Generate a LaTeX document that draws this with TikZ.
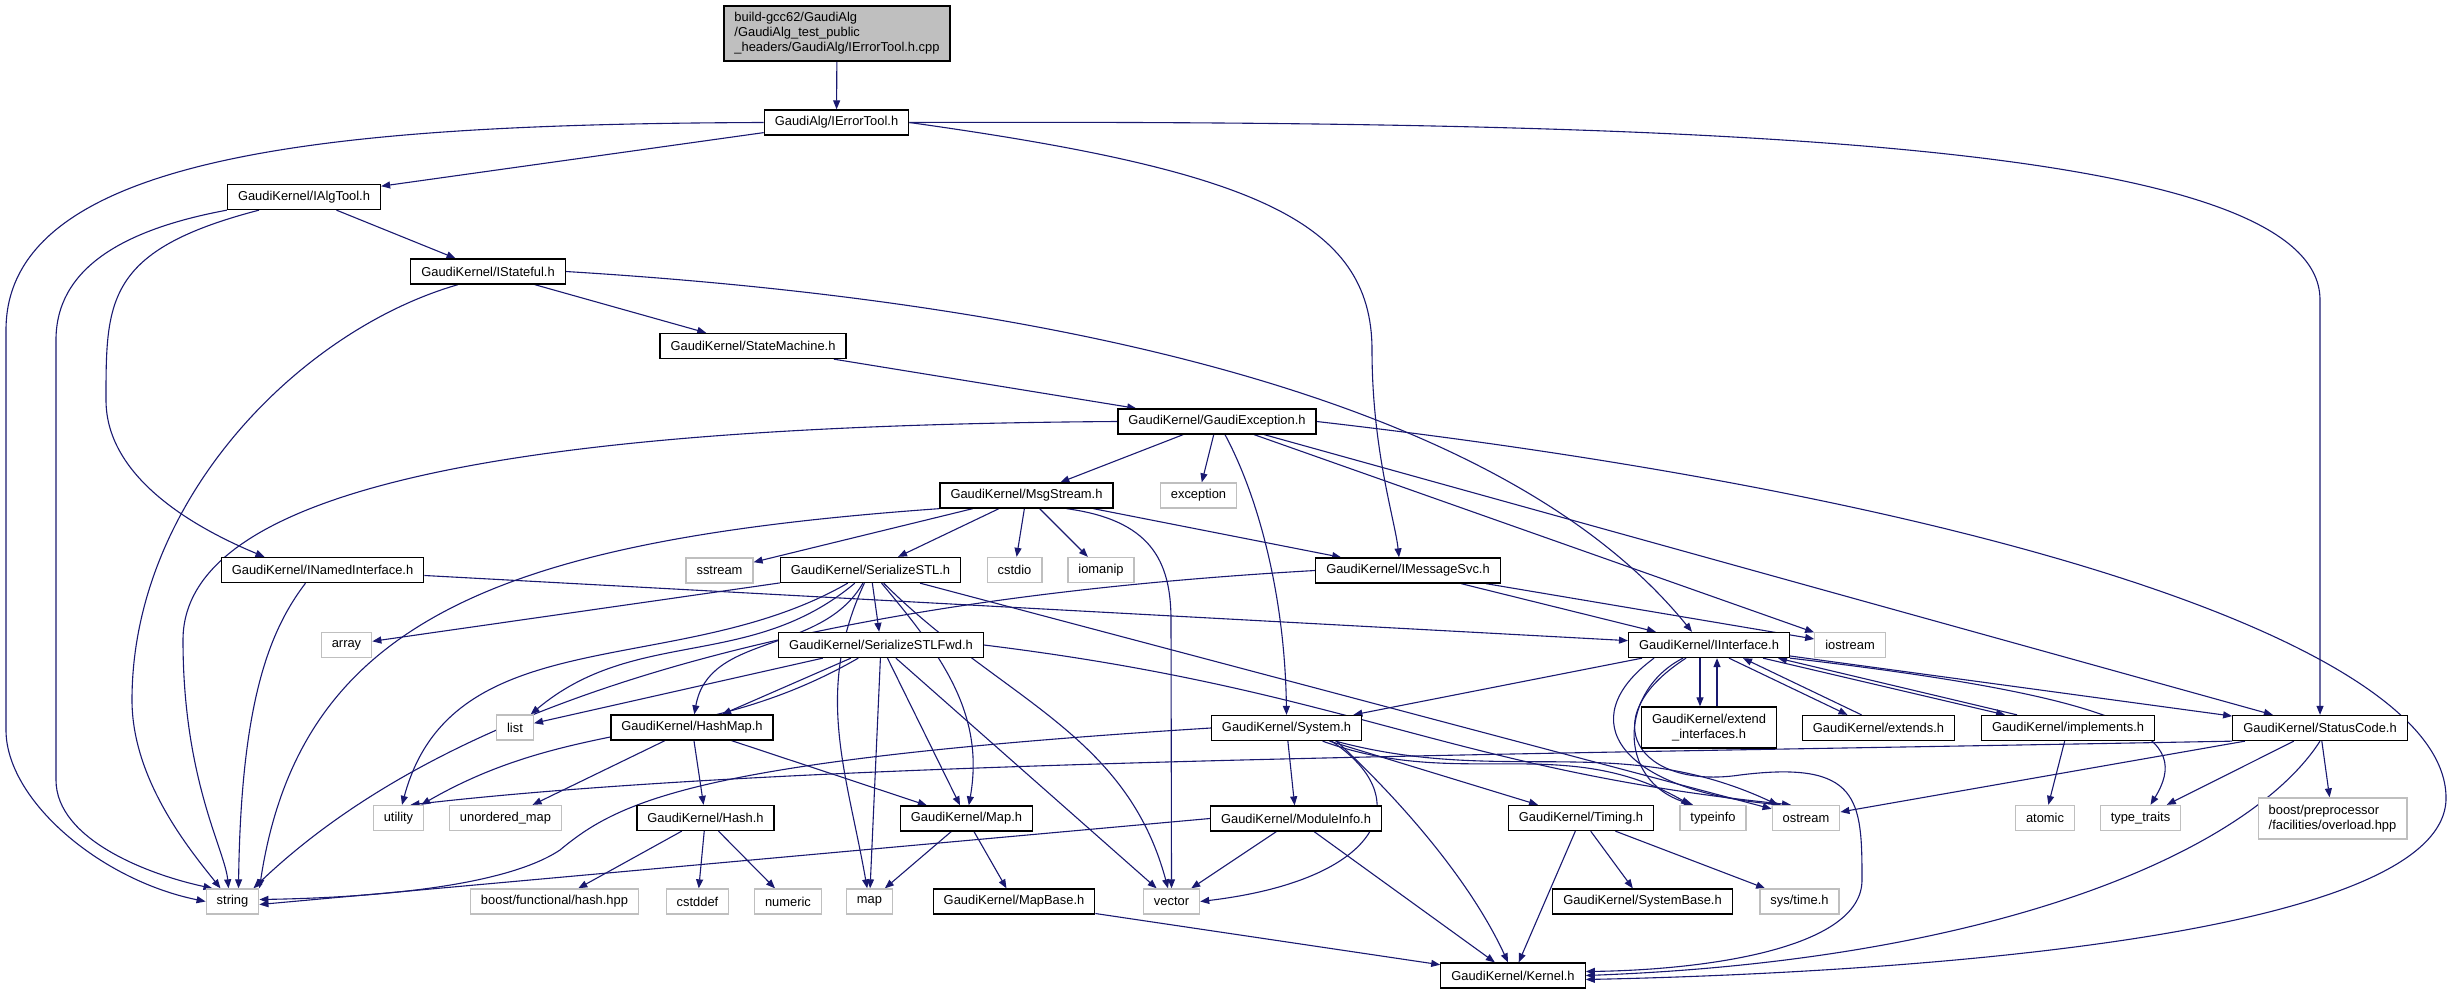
\documentclass[tikz,border=0pt]{standalone}
\usepackage{fontspec}
\setmainfont{Liberation Sans}
\usepackage{xcolor}
\usepackage{tikz}
\usetikzlibrary{arrows.meta}

\definecolor{edgeblue}{RGB}{25,25,112}
\definecolor{sysgray}{RGB}{191,191,191}
\pgfdeclarelayer{background}
\pgfsetlayers{background,main}

\begin{document}
\begin{tikzpicture}[
    x=1pt, y=1pt,
    filenode/.style={rectangle, draw=black, line width=1.3pt, fill=white, inner xsep=10.5pt, inner ysep=0pt, minimum height=25pt, font=\fontsize{12.9}{15}\selectfont},
    sysnode/.style={filenode, draw=sysgray},
    twonode/.style={filenode, align=center, minimum height=41pt},
    rootnode/.style={filenode, fill=sysgray, align=left, minimum height=55pt},
    incl/.style={draw=edgeblue, line width=1.1pt, -{Triangle[length=9pt,width=7pt]}}
]
\useasboundingbox (0,0) rectangle (2454,-995);

% nodes
\node[rootnode](root) at (837,-33.5){build-gcc62/GaudiAlg\\/GaudiAlg\_test\_public\\\_headers/GaudiAlg/IErrorTool.h.cpp};
\node[filenode](ierrortool) at (836.5,-122.5){GaudiAlg/IErrorTool.h};
\node[filenode](ialgtool) at (304,-197){GaudiKernel/IAlgTool.h};
\node[filenode](istateful) at (488,-271.5){GaudiKernel/IStateful.h};
\node[filenode](statemachine) at (753,-346){GaudiKernel/StateMachine.h};
\node[filenode](gaudiexception) at (1217,-421.5){GaudiKernel/GaudiException.h};
\node[filenode](msgstream) at (1026.5,-495.5){GaudiKernel/MsgStream.h};
\node[sysnode](exception) at (1198.5,-495.5){exception};
\node[filenode](serializestl) at (870.5,-570){GaudiKernel/SerializeSTL.h};
\node[sysnode](cstdio) at (1014.5,-570){cstdio};
\node[sysnode](iomanip) at (1101,-570){iomanip};
\node[filenode](imessagesvc) at (1408,-570.5){GaudiKernel/IMessageSvc.h};
\node[sysnode](sstream) at (719.5,-570.5){sstream};
\node[filenode](inamedinterface) at (322.5,-570){GaudiKernel/INamedInterface.h};
\node[sysnode](array) at (346.5,-645){array};
\node[filenode](serializestlfwd) at (881,-645){GaudiKernel/SerializeSTLFwd.h};
\node[filenode](iinterface) at (1709,-645){GaudiKernel/IInterface.h};
\node[sysnode](iostream) at (1850,-645){iostream};
\node[sysnode](list) at (515,-727.5){list};
\node[filenode](hashmap) at (692,-727.5){GaudiKernel/HashMap.h};
\node[filenode](system) at (1286.5,-728){GaudiKernel/System.h};
\node[twonode](extendinterfaces) at (1709,-727.5){GaudiKernel/extend\\\_interfaces.h};
\node[filenode](extends) at (1878.5,-728){GaudiKernel/extends.h};
\node[filenode](implements) at (2068,-728){GaudiKernel/implements.h};
\node[filenode](statuscode) at (2320,-728){GaudiKernel/StatusCode.h};
\node[sysnode](utility) at (398.5,-818){utility};
\node[sysnode](unorderedmap) at (505.5,-818){unordered\_map};
\node[filenode](hash) at (705.5,-818){GaudiKernel/Hash.h};
\node[filenode](gaudimap) at (966.5,-818.5){GaudiKernel/Map.h};
\node[filenode](moduleinfo) at (1296,-818.5){GaudiKernel/ModuleInfo.h};
\node[filenode](timing) at (1581,-818){GaudiKernel/Timing.h};
\node[sysnode](typeinfo) at (1713,-818){typeinfo};
\node[sysnode](ostream) at (1806,-818){ostream};
\node[sysnode](atomic) at (2045,-818){atomic};
\node[sysnode](typetraits) at (2140.5,-818){type\_traits};
\node[sysnode, align=left, minimum height=41pt](boostpp) at (2332.5,-818.5){boost/preprocessor\\/facilities/overload.hpp};
\node[sysnode](string) at (232.5,-901.5){string};
\node[sysnode](boosthash) at (554.5,-901.5){boost/functional/hash.hpp};
\node[sysnode](cstddef) at (697.5,-901.5){cstddef};
\node[sysnode](numeric) at (788,-901.5){numeric};
\node[sysnode](stdmap) at (869.5,-901.5){map};
\node[filenode](mapbase) at (1014,-901.5){GaudiKernel/MapBase.h};
\node[sysnode](vector) at (1171.5,-901.5){vector};
\node[filenode](systembase) at (1642.5,-901.5){GaudiKernel/SystemBase.h};
\node[sysnode](systime) at (1799.5,-901.5){sys/time.h};
\node[filenode](kernel) at (1513,-975.5){GaudiKernel/Kernel.h};

\begin{pgfonlayer}{background}
% root and IErrorTool
\draw[incl] (root) -- (ierrortool);
\draw[incl] (ierrortool.west) .. controls (350,-124) and (6,-150) .. (6,-330) -- (6,-730) .. controls (6,-800) and (100,-880) .. (string.west);
\draw[incl] (ierrortool) -- (ialgtool);
\draw[incl] (ierrortool.east) .. controls (1250,-170) and (1372,-220) .. (1372,-350) .. controls (1372,-450) and (1395,-520) .. ([xshift=-9pt]imessagesvc.north);
\draw[incl] (ierrortool.east) .. controls (1700,-120) and (2320,-140) .. (2320,-300) -- (statuscode.north);

% IAlgTool, IStateful, StateMachine
\draw[incl] (ialgtool.south west) .. controls (120,-230) and (56,-270) .. (56,-340) -- (56,-780) .. controls (56,-840) and (150,-875) .. ([xshift=-20pt]string.north);
\draw[incl] ([xshift=-45pt]ialgtool.south) .. controls (106,-250) and (106,-300) .. (106,-400) .. controls (106,-480) and (200,-530) .. ([xshift=-58pt]inamedinterface.north);
\draw[incl] (ialgtool) -- (istateful);
\draw[incl] ([xshift=-30pt]istateful.south) .. controls (300,-330) and (132,-500) .. (132,-700) .. controls (132,-780) and (190,-850) .. ([xshift=-12pt]string.north);
\draw[incl] (istateful) -- (statemachine);
\draw[incl] (istateful.east) .. controls (950,-295) and (1480,-370) .. ([xshift=-17pt]iinterface.north);
\draw[incl] (statemachine) -- (gaudiexception);

% GaudiException
\draw[incl] (gaudiexception.west) .. controls (600,-425) and (183,-470) .. (183,-640) .. controls (183,-780) and (225,-850) .. ([xshift=-4pt]string.north);
\draw[incl] (gaudiexception) -- (msgstream);
\draw[incl] (gaudiexception) -- (exception);
\draw[incl] ([xshift=8pt]gaudiexception.south) .. controls (1260,-500) and (1285,-600) .. (system.north);
\draw[incl] (gaudiexception) -- (iostream);
\draw[incl] (gaudiexception) -- (statuscode);
\draw[incl] (gaudiexception.east) .. controls (2000,-500) and (2450,-650) .. (2446,-800) .. controls (2440,-950) and (1800,-975) .. ([yshift=-4pt]kernel.east);

% MsgStream
\draw[incl] (msgstream.south west) .. controls (500,-540) and (300,-620) .. (string.north east);
\draw[incl] (msgstream) -- (sstream);
\draw[incl] (msgstream) -- (serializestl);
\draw[incl] (msgstream) -- (cstdio);
\draw[incl] (msgstream) -- (iomanip);
\draw[incl] ([xshift=40pt]msgstream.south) .. controls (1150,-520) and (1171,-560) .. (1171,-620) -- (vector.north);
\draw[incl] (msgstream) -- (imessagesvc);

% IMessageSvc, INamedInterface
\draw[incl] (imessagesvc.west) .. controls (800,-600) and (450,-700) .. ([xshift=-6pt]string.north east);
\draw[incl] (imessagesvc) -- (iinterface);
\draw[incl] (imessagesvc) -- (iostream);
\draw[incl] ([xshift=-17pt]inamedinterface.south) .. controls (270,-630) and (241,-700) .. ([xshift=6pt]string.north);
\draw[incl] (inamedinterface) -- (iinterface);

% SerializeSTL
\draw[incl] (serializestl) -- (array);
\draw[incl] (serializestl) to[out=-140,in=40] (list);
\draw[incl] (serializestl) to[out=-150,in=75] (utility);
\draw[incl] (serializestl) to[out=-120,in=80] (hashmap);
\draw[incl] (serializestl) to[out=-115,in=100] (stdmap);
\draw[incl] (serializestl) -- (serializestlfwd);
\draw[incl] (serializestl) to[out=-50,in=80] (gaudimap);
\draw[incl] (serializestl) to[out=-45,in=105] (vector);
\draw[incl] (serializestl) -- (ostream);

% SerializeSTLFwd
\draw[incl] (serializestlfwd) -- (list);
\draw[incl] (serializestlfwd) to[out=-150,in=30] (utility);
\draw[incl] (serializestlfwd) -- (hashmap);
\draw[incl] (serializestlfwd) -- (stdmap);
\draw[incl] (serializestlfwd) -- (gaudimap);
\draw[incl] (serializestlfwd) -- (vector);
\draw[incl] (serializestlfwd.east) .. controls (1350,-690) and (1450,-770) .. ([xshift=-15pt]ostream.north);

% IInterface
\draw[incl] (iinterface) -- (system);
\draw[incl] ([xshift=-9pt]iinterface.south) -- ([xshift=-9pt]extendinterfaces.north);
\draw[incl] ([xshift=8pt]extendinterfaces.north) -- ([xshift=8pt]iinterface.south);
\draw[incl] ([xshift=20pt]iinterface.south) -- ([xshift=-31pt]extends.north);
\draw[incl] ([xshift=-17pt]extends.north) -- ([xshift=34pt]iinterface.south);
\draw[incl] ([xshift=54pt]iinterface.south) -- ([xshift=-63pt]implements.north);
\draw[incl] ([xshift=-51pt]implements.north) -- ([xshift=69pt]iinterface.south);
\draw[incl] (iinterface) -- (statuscode);
\draw[incl] (iinterface.south east) .. controls (2150,-700) and (2190,-740) .. ([xshift=10pt]typetraits.north);
\draw[incl] ([xshift=-26pt]iinterface.south) .. controls (1620,-690) and (1615,-780) .. ([xshift=-20pt]typeinfo.north);
\draw[incl] ([xshift=-55pt]iinterface.south) .. controls (1570,-720) and (1620,-790) .. ([xshift=-25pt]ostream.north);
\draw[incl] ([xshift=-23pt]iinterface.south) .. controls (1590,-720) and (1640,-790) .. (1740,-775) .. controls (1860,-760) and (1862,-800) .. (1862,-880) .. controls (1862,-950) and (1700,-970) .. ([yshift=4pt]kernel.east);

% System
\draw[incl] (system.west) .. controls (700,-760) and (620,-800) .. (560,-850) .. controls (500,-890) and (350,-898) .. ([yshift=2pt]string.east);
\draw[incl] (system) -- (moduleinfo);
\draw[incl] (system) -- (timing);
\draw[incl] (system) to[out=-20,in=150] (typeinfo);
\draw[incl] (system) to[out=-15,in=155] (ostream);
\draw[incl] ([xshift=45pt]system.south) .. controls (1420,-800) and (1380,-880) .. (vector.east);
\draw[incl] ([xshift=50pt]system.south) .. controls (1400,-800) and (1470,-880) .. ([xshift=-5pt]kernel.north);

% ModuleInfo, Timing
\draw[incl] (moduleinfo.west) -- ([yshift=-3pt]string.east);
\draw[incl] (moduleinfo) -- (vector);
\draw[incl] (moduleinfo) -- (kernel);
\draw[incl] (timing) -- (kernel);
\draw[incl] (timing) -- (systembase);
\draw[incl] (timing) -- (systime);

% StatusCode, implements
\draw[incl] (statuscode.south west) .. controls (1500,-755) and (800,-760) .. ([xshift=12pt]utility.north);
\draw[incl] (statuscode) -- (ostream);
\draw[incl] (statuscode) -- (typetraits);
\draw[incl] (statuscode) -- (boostpp);
\draw[incl] (statuscode.south) .. controls (2250,-850) and (2000,-960) .. (kernel.east);
\draw[incl] (implements) -- (atomic);

% HashMap, Hash, Map
\draw[incl] (hashmap) -- (unorderedmap);
\draw[incl] (hashmap) -- (hash);
\draw[incl] (hashmap) -- (gaudimap);
\draw[incl] (hash) -- (boosthash);
\draw[incl] (hash) -- (cstddef);
\draw[incl] (hash) -- (numeric);
\draw[incl] (gaudimap) -- (stdmap);
\draw[incl] (gaudimap) -- (mapbase);
\draw[incl] (mapbase) -- (kernel);
\end{pgfonlayer}
\end{tikzpicture}
\end{document}
